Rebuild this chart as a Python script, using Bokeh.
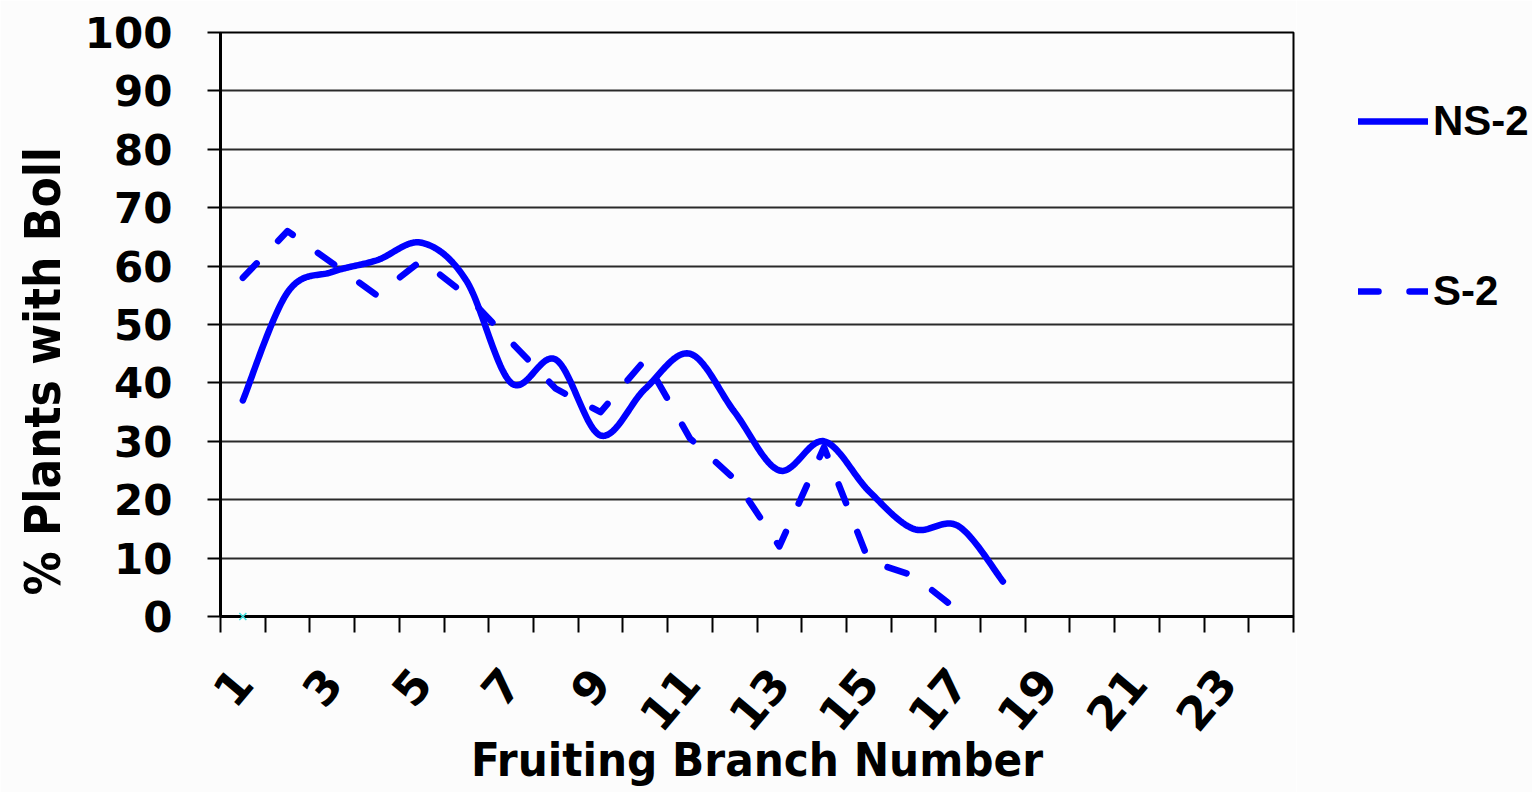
import numpy as np
from bokeh.plotting import figure
from bokeh.layouts import row
from bokeh.models import Range1d, FixedTicker, Legend, LegendItem, Title
from bokeh.embed import file_html
from bokeh.resources import INLINE

# ---------------- data ----------------
categories = list(range(1, 25))                     # fruiting branch numbers 1..24
x_tick_values = [c for c in categories if c % 2 == 1]  # labelled: 1,3,...,23
y_ticks = list(range(0, 101, 10))

ns2_branch = list(range(1, 19))
ns2_pct = [37, 55.5, 59, 61, 64, 57.5, 40, 44, 31, 39, 45, 35, 25, 30, 21.5, 15, 15.5, 6]

s2_branch = list(range(1, 18))
s2_pct = [58, 66, 60.5, 55, 61, 55, 47, 39, 35, 44, 30.5, 23.5, 12, 29, 9.5, 7, 1]

extra_branch = [1]
extra_pct = [0]

series_names = ["NS-2", "S-2"]


def smooth(xs, ys, n=30):
    """Excel-style smoothed line (Catmull-Rom -> cubic Bezier) through the data points."""
    xs = np.asarray(xs, float)
    ys = np.asarray(ys, float)
    px = np.concatenate([[xs[0]], xs, [xs[-1]]])
    py = np.concatenate([[ys[0]], ys, [ys[-1]]])
    t = np.linspace(0, 1, n)
    ox, oy = [], []
    for i in range(1, len(px) - 2):
        p0x, p1x, p2x, p3x = px[i - 1:i + 3]
        p0y, p1y, p2y, p3y = py[i - 1:i + 3]
        c1x, c1y = p1x + (p2x - p0x) / 6, p1y + (p2y - p0y) / 6
        c2x, c2y = p2x - (p3x - p1x) / 6, p2y - (p3y - p1y) / 6
        bx = (1 - t) ** 3 * p1x + 3 * (1 - t) ** 2 * t * c1x + 3 * (1 - t) * t ** 2 * c2x + t ** 3 * p2x
        by = (1 - t) ** 3 * p1y + 3 * (1 - t) ** 2 * t * c1y + 3 * (1 - t) * t ** 2 * c2y + t ** 3 * p2y
        if i > 1:
            bx, by = bx[1:], by[1:]
        ox.extend(bx.tolist())
        oy.extend(by.tolist())
    return ox, oy


BG = "#fcfcfc"
BLUE = "#0000ff"
LW = 6.5
DASH = "20 31"

p = figure(width=1296, height=792,
           x_range=Range1d(0.5, 24.5), y_range=Range1d(0, 100),
           output_backend="svg", toolbar_location=None,
           min_border_left=220, min_border_right=3,
           min_border_top=32, min_border_bottom=176)
p.background_fill_color = BG
p.border_fill_color = BG
p.outline_line_color = "black"
p.outline_line_width = 2

# grid
p.xgrid.visible = False
p.ygrid.ticker = FixedTicker(ticks=y_ticks)
p.ygrid.grid_line_color = "#2a2a2a"
p.ygrid.grid_line_width = 2

# x axis
xa = p.xaxis[0]
xa.ticker = FixedTicker(ticks=x_tick_values, minor_ticks=[c - 0.5 for c in categories] + [categories[-1] + 0.5])
xa.major_label_overrides = {v: str(v) for v in x_tick_values}
xa.major_tick_line_color = None
xa.major_tick_out = 0
xa.major_tick_in = 0
xa.minor_tick_line_color = "black"
xa.minor_tick_line_width = 2
xa.minor_tick_out = 16
xa.minor_tick_in = 0
xa.axis_line_color = "black"
xa.axis_line_width = 3
xa.major_label_orientation = 0.87
xa.major_label_text_font = "DejaVu Sans"
xa.major_label_text_font_style = "bold"
xa.major_label_text_font_size = "46px"
xa.major_label_text_color = "black"
xa.major_label_standoff = 42
xa.axis_label = "Fruiting Branch Number"
xa.axis_label_text_font = "DejaVu Sans Condensed, DejaVu Sans"
xa.axis_label_text_font_style = "bold"
xa.axis_label_text_font_size = "47px"
xa.axis_label_text_color = "black"
xa.axis_label_standoff = -16

# y axis
ya = p.yaxis[0]
ya.ticker = FixedTicker(ticks=y_ticks)
ya.major_tick_out = 13
ya.major_tick_in = 0
ya.major_tick_line_width = 2
ya.major_tick_line_color = "black"
ya.minor_tick_line_color = None
ya.axis_line_color = "black"
ya.axis_line_width = 3
ya.major_label_standoff = 35
ya.major_label_text_font = "DejaVu Sans"
ya.major_label_text_font_style = "bold"
ya.major_label_text_font_size = "42px"
ya.major_label_text_color = "black"

p.add_layout(Title(text="% Plants with Boll", align="left", offset=21,
                   text_font="DejaVu Sans Condensed, DejaVu Sans", text_font_style="bold",
                   text_font_size="49px", text_color="black", standoff=20), "left")

# series
sx, sy = smooth(ns2_branch, ns2_pct)
p.line(sx, sy, line_color=BLUE, line_width=LW, line_join="round", line_cap="round")
p.line(s2_branch, s2_pct, line_color=BLUE, line_width=LW, line_dash=DASH,
       line_join="round", line_cap="round")
p.scatter(extra_branch, extra_pct, marker="x", size=10, line_color="#3fe0e0",
          line_width=1.5, level="overlay")

# legend panel: narrow figure to the right of the chart; its ranges keep the
# proxy copies of the two series out of view so only the legend shows.
pl = figure(width=236, height=792, x_range=Range1d(-20, -10), y_range=Range1d(0, 100),
            output_backend="svg", toolbar_location=None,
            x_axis_location=None, y_axis_location=None, min_border=0)
pl.grid.visible = False
pl.outline_line_color = None
pl.background_fill_color = BG
pl.border_fill_color = BG
l1 = pl.line(ns2_branch, ns2_pct, line_color=BLUE, line_width=LW, line_cap="round")
l2 = pl.line(s2_branch, s2_pct, line_color=BLUE, line_width=LW, line_dash=DASH, line_cap="round")
legend = Legend(items=[LegendItem(label=series_names[0], renderers=[l1]),
                       LegendItem(label=series_names[1], renderers=[l2])],
                location=(62, 301), orientation="vertical", spacing=122,
                padding=0, margin=0, glyph_width=70, glyph_height=48,
                label_height=48, label_standoff=5,
                label_text_font="Liberation Sans", label_text_font_style="bold",
                label_text_font_size="42px", label_text_color="black",
                border_line_color=None, background_fill_alpha=0)
pl.add_layout(legend, "center")

layout = row(p, pl, spacing=0)
open("out.html", "w").write(file_html(layout, INLINE))
